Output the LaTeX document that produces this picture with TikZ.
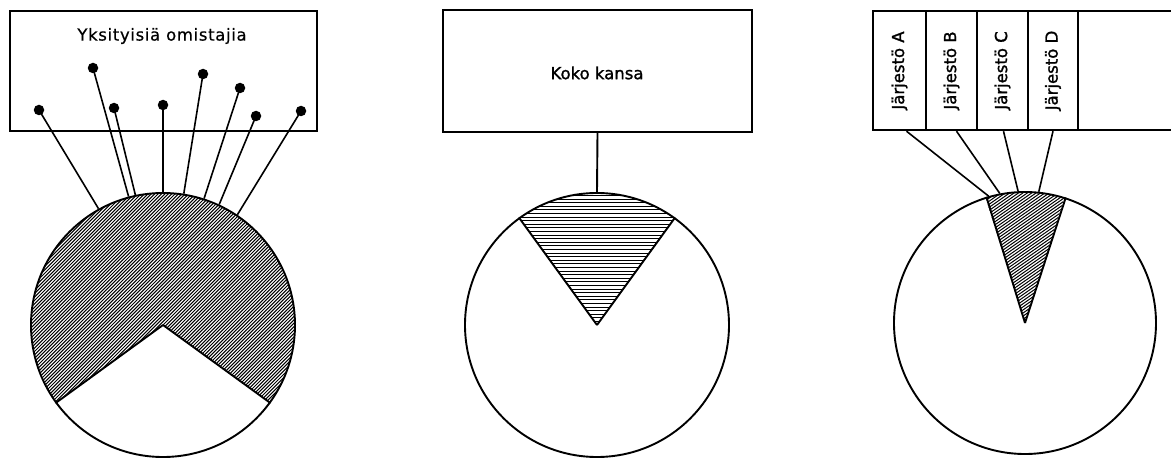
\documentclass[tikz,border=0pt]{standalone}
\usepackage{fontspec}
\setmainfont{DejaVu Sans}
\newfontfamily\spacedfont[LetterSpace=4,FakeBold=0.6]{DejaVu Sans}
\newfontfamily\heavyfont[FakeBold=1.4]{DejaVu Sans}
\begin{document}
\begin{tikzpicture}[x=1pt,y=1pt,
  box/.style={draw, line width=2.4pt, inner sep=0pt},
  piec/.style={circle, draw, line width=1.9pt, inner sep=0pt, minimum size=264pt},
  edge/.style={line width=1.9pt},
  conn/.style={line width=1.6pt},
  hatch/.style={line width=1pt},
  dotm/.style={circle, fill=black, inner sep=0pt, minimum size=10.5pt},
  lbl/.style={font=\heavyfont\fontsize{16.5}{19}\selectfont}]
\useasboundingbox (0,0) rectangle (1171,459);
\clip (0,0) rectangle (1171,459);

% ---------- left panel ----------
\node[box, minimum width=307pt, minimum height=120pt] (boxL) at (163.5,388) {};
\node[font=\spacedfont\fontsize{16.5}{19}\selectfont] (tL) at (162,423) {Yksityisiä omistajia};
\coordinate (cL) at (163,134);
\begin{scope}
  \clip (cL) -- ++(-36:132) arc[start angle=-36, end angle=216, radius=132] -- cycle;
  \foreach \i in {-260,-256.6,...,300} \draw[hatch] (\i,0) -- ++(300,300);
\end{scope}
\node[piec] (circL) at (cL) {};
\draw[edge] (cL) -- (circL.216);
\draw[edge] (cL) -- (circL.-36);
\node[dotm] (d1) at (39,349) {};
\node[dotm] (d2) at (93,391) {};
\node[dotm] (d3) at (114,351) {};
\node[dotm] (d4) at (163,354) {};
\node[dotm] (d5) at (203,385) {};
\node[dotm] (d6) at (240,371) {};
\node[dotm] (d7) at (256,343) {};
\node[dotm] (d8) at (301,348) {};
\draw[conn] (d1.center) -- (circL.119.9);
\draw[conn] (d2.center) -- (circL.105.3);
\draw[conn] (d3.center) -- (circL.102.8);
\draw[conn] (d4.center) -- (circL.90);
\draw[conn] (d5.center) -- (circL.81);
\draw[conn] (d6.center) -- (circL.72.1);
\draw[conn] (d7.center) -- (circL.65.3);
\draw[conn] (d8.center) -- (circL.56.9);

% ---------- middle panel ----------
\node[box, minimum width=309pt, minimum height=122pt] (boxM) at (597.5,388) {};
\node[lbl] (tM) at (597,386) {Koko kansa};
\coordinate (cM) at (597,134);
\begin{scope}
  \clip (cM) -- ++(54:132) arc[start angle=54, end angle=126, radius=132] -- cycle;
  \foreach \y in {134,137.6,...,270} \draw[hatch] (440,\y) -- (760,\y);
\end{scope}
\node[piec] (circM) at (cM) {};
\draw[edge] (cM) -- (circM.54);
\draw[edge] (cM) -- (circM.126);
\draw[edge] (boxM.south) -- (circM.north);

% ---------- right panel ----------
\node[box, minimum width=320pt, minimum height=119pt] (boxR) at (1033,388.5) {};
\node[box, minimum width=53pt, minimum height=119pt] (colA) at (899.5,388.5) {};
\node[box, minimum width=51pt, minimum height=119pt] (colB) at (951.5,388.5) {};
\node[box, minimum width=51pt, minimum height=119pt] (colC) at (1002.5,388.5) {};
\node[box, minimum width=50pt, minimum height=119pt] (colD) at (1053,388.5) {};
\node[lbl, rotate=90] (tA) at (colA) {Järjestö A};
\node[lbl, rotate=90] (tB) at (colB) {Järjestö B};
\node[lbl, rotate=90] (tC) at (colC) {Järjestö C};
\node[lbl, rotate=90] (tD) at (colD) {Järjestö D};
\coordinate (cR) at (1025,136);
\begin{scope}
  \clip (cR) -- ++(72.5:131) arc[start angle=72.5, end angle=107.5, radius=131] -- cycle;
  \foreach \i in {-500,-495.6,...,100} \draw[hatch] (1025+\i,130) -- ++(35:700);
\end{scope}
\node[piec, minimum size=262pt] (circR) at (cR) {};
\draw[edge] (cR) -- (circR.72.5);
\draw[edge] (cR) -- (circR.107.5);
\draw[conn] ([xshift=7pt]colA.south) -- (circR.106.5);
\draw[conn] ([xshift=5pt]colB.south) -- (circR.101.6);
\draw[conn] ([xshift=1pt]colC.south) -- (circR.93.5);
\draw[conn] (colD.south) -- (circR.84.3);
\end{tikzpicture}
\end{document}
